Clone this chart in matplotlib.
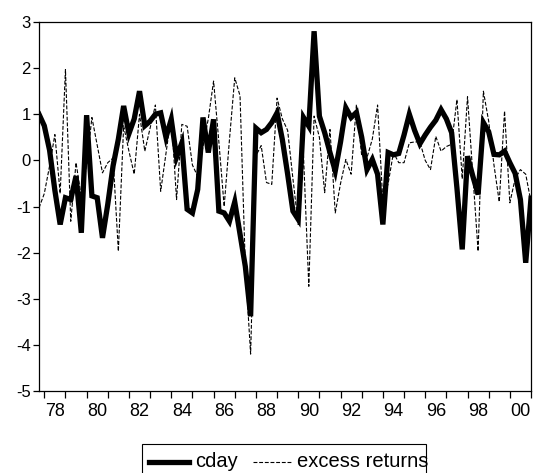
import matplotlib
matplotlib.use("Agg")
import matplotlib.pyplot as plt
import numpy as np
from matplotlib.lines import Line2D
from matplotlib.patches import Rectangle

plt.rcParams["font.family"] = ["Liberation Sans", "DejaVu Sans"]
plt.rcParams["axes.unicode_minus"] = False

# quarterly sample 1977Q4 .. 2001Q1
start_year = 1977.75
n_obs = 94

cday = [
    1.00, 0.75, 0.22, -0.65, -1.39, -0.81, -0.85, -0.34, -1.57, 0.98,
    -0.77, -0.81, -1.68, -0.95, -0.12, 0.46, 1.18, 0.58, 0.90, 1.50,
    0.75, 0.85, 1.00, 1.03, 0.50, 0.89, 0.07, 0.38, -1.06, -1.14,
    -0.63, 0.93, 0.17, 0.89, -1.10, -1.14, -1.32, -0.90, -1.60, -2.30,
    -3.38, 0.70, 0.60, 0.67, 0.82, 1.03, 0.45, -0.30, -1.10, -1.28,
    0.93, 0.74, 2.80, 0.96, 0.60, 0.17, -0.23, 0.40, 1.14, 0.93,
    1.04, 0.50, -0.20, 0.02, -0.30, -1.39, 0.17, 0.12, 0.15, 0.55,
    1.00, 0.65, 0.36, 0.55, 0.72, 0.87, 1.10, 0.90, 0.60, -0.60,
    -1.93, 0.09, -0.34, -0.74, 0.82, 0.62, 0.13, 0.12, 0.20, -0.05,
    -0.28, -0.85, -2.22, -0.82,
]

excess_returns = [
    -1.03, -0.72, -0.12, 0.56, -0.72, 1.97, -1.32, -0.05, -0.80, -0.10,
    0.93, 0.33, -0.27, -0.05, 0.05, -1.97, 0.75, 0.20, -0.30, 1.00,
    0.20, 0.70, 1.20, -0.67, 0.15, 0.98, -0.85, 0.78, 0.74, -0.10,
    -0.35, 0.30, 0.90, 1.72, 0.40, -1.00, 0.45, 1.79, 1.40, -2.30,
    -4.20, 0.10, 0.32, -0.48, -0.52, 1.35, 0.90, 0.65, -0.40, -1.39,
    0.10, -2.73, 0.96, 0.50, -0.70, 0.67, -1.14, -0.50, 0.02, -0.30,
    1.21, 0.10, 0.06, 0.46, 1.20, -0.90, -0.50, 0.17, -0.05, -0.05,
    0.38, 0.40, 0.40, 0.00, -0.20, 0.52, 0.20, 0.30, 0.35, 1.32,
    -0.40, 1.38, -0.30, -1.97, 1.50, 0.85, -0.10, -0.90, 1.07, -0.92,
    -0.40, -0.20, -0.30, -0.90,
]

year_labels = ["78", "80", "82", "84", "86", "88", "90", "92", "94", "96", "98", "00"]
y_ticks = [3, 2, 1, 0, -1, -2, -3, -4, -5]

t = start_year + 0.25 * np.arange(n_obs)

W, H = 534, 473
fig = plt.figure(figsize=(W / 100, H / 100), dpi=100)
ax = fig.add_axes([39 / W, 1 - 391 / H, (531 - 39) / W, (391 - 22) / H])

ax.plot(t, excess_returns, color="black", lw=0.8, dashes=(3.5, 1.6))
ax.plot(t, cday, color="black", lw=3.8, solid_joinstyle="miter")

ax.set_xlim(t[0], t[-1])
ax.set_ylim(-5, 3)
ax.set_yticks(y_ticks)
ax.set_yticklabels([str(v) for v in y_ticks])

ax.set_xticks(np.arange(1978, 2002))
ax.set_xticklabels([])
ax.set_xticks([1978.5 + 2 * k for k in range(len(year_labels))], minor=True)
ax.set_xticklabels(year_labels, minor=True)

ax.tick_params(axis="x", which="major", direction="out", length=5, width=0.9)
ax.tick_params(axis="x", which="minor", length=0, pad=8.5, labelsize=13)
ax.tick_params(axis="y", direction="out", length=4.5, width=0.9, labelsize=12, pad=1.5)
for s in ax.spines.values():
    s.set_linewidth(0.9)

# legend box drawn like the EViews one (open at the bottom edge of the image)
fig.add_artist(Rectangle((141.5 / W, -0.05), (426 - 141.5) / W, 0.05 + 1 - 444 / H,
                         transform=fig.transFigure, fill=False, lw=0.8, ec="black"))
ly = 1 - 461.5 / H
fig.add_artist(Line2D([149 / W, 189 / W], [ly, ly], transform=fig.transFigure,
                      color="black", lw=3.8))
fig.text(195 / W, ly, "cday", fontsize=14.5, va="center", ha="left")
fig.add_artist(Line2D([253 / W, 291 / W], [ly, ly], transform=fig.transFigure,
                      color="black", lw=0.8, dashes=(3.5, 1.6)))
fig.text(297 / W, ly, "excess returns", fontsize=14.5, va="center", ha="left")

fig.savefig("out.png", dpi=100)
